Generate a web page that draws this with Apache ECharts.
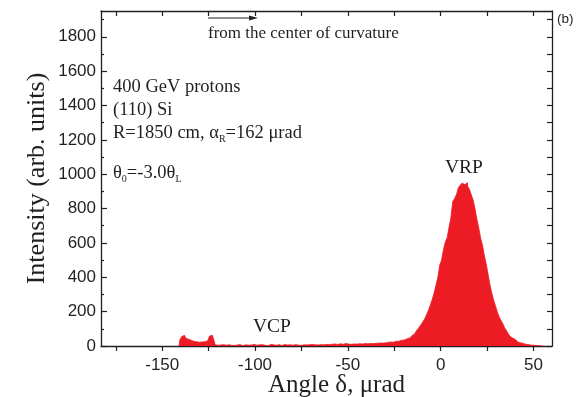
<!DOCTYPE html>
<html>
<head>
<meta charset="utf-8">
<script src="https://cdn.jsdelivr.net/npm/echarts@6/dist/echarts.min.js"></script>
<style>
  html, body { margin: 0; padding: 0; background: #fff; }
  #chart { width: 583px; height: 397px; }
</style>
</head>
<body>
<div id="chart"></div>
<script>
// Angular histogram of deflected protons, 1 µrad bins
const binStart = -141;   // centre of the first bin, µrad
const binWidth = 1;      // µrad
const counts = [
  0,
  35, 55, 62, 48, 40, 34, 30, 27, 25, 24, 22, 24, 23, 25, 30, 40, 58, 62, 45, 8,
  4,
  6, 3, 8, 5, 2, 7, 4, 9, 3, 6, 5, 8, 2, 4, 7, 5, 3, 6, 9, 4,
  5, 7, 3, 8, 4, 6, 2, 9, 5, 7, 4, 6, 8, 3, 5, 9, 6, 4, 7, 5,
  6, 8, 5, 9, 4, 7, 10, 6, 8, 5, 9, 7, 11, 6, 8, 10, 7, 9, 12, 8,
  10, 8, 12, 9, 11, 13, 10, 12, 14,
  11, 13, 10, 12, 14, 11, 13, 15, 12, 14, 16, 13, 15, 17, 14, 16, 18, 17,
  17, 19, 18, 21, 20, 23, 22, 25, 27, 28, 31, 33,
  35, 38, 42, 47, 53, 60, 70, 82, 96, 110,
  125, 142, 160, 185, 210, 240, 272, 310, 355, 400,
  470, 500, 560, 605, 630, 690, 745, 840, 858, 880,
  920, 935, 948, 940, 950, 930, 912, 880, 850, 800,
  740, 690, 630, 590, 530, 480, 420, 360, 310, 270,
  235, 200, 170, 150, 130, 105, 90, 70, 55, 45,
  36, 30, 24, 19, 15, 12, 10, 8, 6, 5,
  4, 3, 2, 2, 1, 0
];

// Axis ranges and tick labels
const xRange = [-183, 60];
const yRange = [0, 1950];
const xLabels = [-150, -100, -50, 0, 50];
const xTicks = [-175, -150, -125, -100, -75, -50, -25, 0, 25, 50];
const yLabels = [0, 200, 400, 600, 800, 1000, 1200, 1400, 1600, 1800];
const yMinorTicks = [100, 300, 500, 700, 900, 1100, 1300, 1500, 1700, 1900];
const yAllTicks = yLabels.concat(yMinorTicks).sort((a, b) => a - b);

const histData = counts.map((c, i) => [binStart + i * binWidth, c]);

const ink = '#231f20';
const red = '#ed1c24';
const serif = '"Liberation Serif", "Times New Roman", serif';
const sans = '"Liberation Sans", Arial, sans-serif';
const plain = v => String(v);

const chart = echarts.init(document.getElementById('chart'), null, { renderer: 'canvas' });

chart.setOption({
  animation: false,
  backgroundColor: '#fff',
  grid: { left: 101, right: 31, top: 11, bottom: 51, containLabel: false, outerBoundsMode: 'none' },
  xAxis: [
    {
      type: 'value', position: 'bottom', min: xRange[0], max: xRange[1],
      name: 'Angle δ, μrad', nameLocation: 'middle', nameGap: 27, nameMoveOverlap: false,
      nameTextStyle: { fontFamily: serif, fontSize: 25, color: ink, padding: [0, 0, 0, 20] },
      axisLine: { show: true, onZero: false, lineStyle: { color: ink, width: 1.3 } },
      axisTick: { show: true, inside: false, length: 5, customValues: xTicks, lineStyle: { color: ink, width: 1.2 } },
      axisLabel: { show: true, customValues: xLabels, margin: 11, fontFamily: sans, fontSize: 17, color: ink, formatter: plain },
      splitLine: { show: false }
    },
    {
      type: 'value', position: 'top', min: xRange[0], max: xRange[1],
      axisLine: { show: true, onZero: false, lineStyle: { color: ink, width: 1.3 } },
      axisTick: { show: true, inside: true, length: 5, customValues: xTicks, lineStyle: { color: ink, width: 1.2 } },
      axisLabel: { show: false },
      splitLine: { show: false }
    }
  ],
  yAxis: [
    {
      type: 'value', position: 'left', min: yRange[0], max: yRange[1],
      name: 'Intensity (arb. units)', nameLocation: 'middle', nameGap: 51, nameMoveOverlap: false,
      nameTextStyle: { fontFamily: serif, fontSize: 26, color: ink },
      axisLine: { show: true, onZero: false, lineStyle: { color: ink, width: 1.3 } },
      axisTick: { show: true, inside: true, length: 6, customValues: yLabels, lineStyle: { color: ink, width: 1.2 } },
      axisLabel: { show: true, customValues: yLabels, margin: 5, fontFamily: sans, fontSize: 17, color: ink, formatter: plain },
      splitLine: { show: false }
    },
    {
      type: 'value', position: 'left', min: yRange[0], max: yRange[1],
      axisLine: { show: false, onZero: false },
      axisTick: { show: true, inside: true, length: 3, customValues: yMinorTicks, lineStyle: { color: ink, width: 1.2 } },
      axisLabel: { show: false },
      splitLine: { show: false }
    },
    {
      type: 'value', position: 'right', min: yRange[0], max: yRange[1],
      axisLine: { show: true, onZero: false, lineStyle: { color: ink, width: 1.3 } },
      axisTick: { show: true, inside: true, length: 5, customValues: yAllTicks, lineStyle: { color: ink, width: 1.2 } },
      axisLabel: { show: false },
      splitLine: { show: false }
    }
  ],
  series: [
    {
      type: 'line',
      xAxisIndex: 0,
      yAxisIndex: 0,
      data: histData,
      step: 'middle',
      showSymbol: false,
      lineStyle: { color: red, width: 0.8 },
      areaStyle: { color: red, opacity: 1 },
      z: 1
    }
  ],
  graphic: [
    // arrow pointing away from the centre of curvature
    { type: 'line', shape: { x1: 208, y1: 18, x2: 252, y2: 18 }, style: { stroke: ink, lineWidth: 1.2 }, z: 10 },
    { type: 'polygon', shape: { points: [[258, 18], [249, 15.5], [249, 20.5]] }, style: { fill: ink }, z: 10 },
    { type: 'text', x: 208, y: 34, style: { text: 'from the center of curvature', font: '17px ' + serif, fill: ink, verticalAlign: 'middle' }, z: 10 },
    { type: 'text', x: 113, y: 87, style: { text: '400 GeV protons', font: '18.5px ' + serif, fill: ink, verticalAlign: 'middle' }, z: 10 },
    { type: 'text', x: 113, y: 110, style: { text: '(110) Si', font: '18.5px ' + serif, fill: ink, verticalAlign: 'middle' }, z: 10 },
    {
      type: 'text', x: 113, y: 133, z: 10,
      style: {
        text: 'R=1850 cm, α{sub|R}=162 μrad',
        font: '18.5px ' + serif, fill: ink, verticalAlign: 'middle',
        rich: { sub: { fontSize: 10, fontFamily: serif, fill: ink, padding: [12, 0, 0, 0] } }
      }
    },
    {
      type: 'text', x: 113, y: 173, z: 10,
      style: {
        text: 'θ{sub|0}=-3.0θ{sub|L}',
        font: '18.5px ' + serif, fill: ink, verticalAlign: 'middle',
        rich: { sub: { fontSize: 10, fontFamily: serif, fill: ink, padding: [12, 0, 0, 0] } }
      }
    },
    { type: 'text', x: 445, y: 168, style: { text: 'VRP', font: '19.5px ' + serif, fill: ink, verticalAlign: 'middle' }, z: 10 },
    { type: 'text', x: 253, y: 327, style: { text: 'VCP', font: '19.5px ' + serif, fill: ink, verticalAlign: 'middle' }, z: 10 },
    { type: 'text', x: 557, y: 19, style: { text: '(b)', font: '13.5px ' + sans, fill: ink, verticalAlign: 'middle' }, z: 10 }
  ]
});
</script>
</body>
</html>
